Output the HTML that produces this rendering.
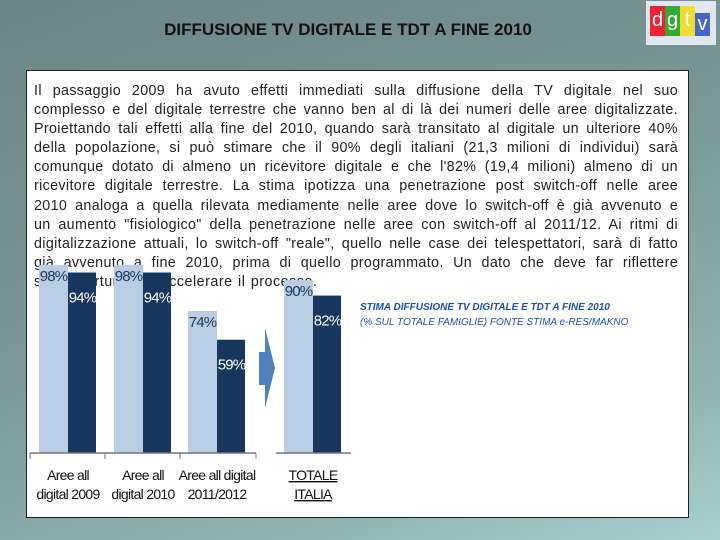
<!DOCTYPE html>
<html><head><meta charset="utf-8"><style>
body{margin:0;width:720px;height:540px;overflow:hidden;position:relative;font-family:"Liberation Sans",sans-serif;
background:linear-gradient(160deg,#6d8585 0%,#7a9696 45%,#8fb3b3 80%,#a8d0d0 100%);}
#title{position:absolute;left:0;width:696px;top:20px;text-align:center;font-weight:bold;font-size:17px;color:#111}
#logo{position:absolute;left:646px;top:1px;width:70px;height:44px;background:#dfe8f0}
.lb{position:absolute;top:5px;width:15px;height:30px;color:#fff;font-size:20px;text-align:center;line-height:28px}
#box{position:absolute;left:26px;top:70px;width:661px;height:446px;background:#fff;border:1px solid #222}
#para{position:absolute;left:7px;top:11px;width:644px;font-size:14.3px;line-height:19.1px;color:#222;letter-spacing:0.35px}
#para div{text-align:justify;text-align-last:justify;white-space:nowrap;overflow:visible}
#para div.last{text-align-last:left;letter-spacing:0.5px;word-spacing:1px}
#cap{position:absolute;left:333px;top:229px;font-size:10px;font-style:italic;color:#1f4fb0;line-height:15px}
svg{position:absolute;left:0;top:0}
</style></head><body>
<div id="title">DIFFUSIONE TV DIGITALE E TDT A FINE 2010</div>
<div id="logo">
<div class="lb" style="left:4px;background:#e23">d</div>
<div class="lb" style="left:19px;background:#3a3">g</div>
<div class="lb" style="left:34px;background:#ed3">t</div>
<div class="lb" style="left:49px;top:12px;height:23px;line-height:22px;background:#46c">v</div></div>
<div id="box">
<div id="para">
<div>Il passaggio 2009 ha avuto effetti immediati sulla diffusione della TV digitale nel suo</div>
<div>complesso e del digitale terrestre che vanno ben al di là dei numeri delle aree digitalizzate.</div>
<div>Proiettando tali effetti alla fine del 2010, quando sarà transitato al digitale un ulteriore 40%</div>
<div>della popolazione, si può stimare che il 90% degli italiani (21,3 milioni di individui) sarà</div>
<div>comunque dotato di almeno un ricevitore digitale e che l'82% (19,4 milioni) almeno di un</div>
<div>ricevitore digitale terrestre. La stima ipotizza una penetrazione post switch-off nelle aree</div>
<div>2010 analoga a quella rilevata mediamente nelle aree dove lo switch-off è già avvenuto e</div>
<div>un aumento "fisiologico" della penetrazione nelle aree con switch-off al 2011/12. Ai ritmi di</div>
<div>digitalizzazione attuali, lo switch-off "reale", quello nelle case dei telespettatori, sarà di fatto</div>
<div>già avvenuto a fine 2010, prima di quello programmato. Un dato che deve far riflettere</div>
<div class="last">sull'opportunità di accelerare il processo.</div>
</div>
<div id="cap"><b>STIMA DIFFUSIONE TV DIGITALE E TDT A FINE 2010</b><br>(% SUL TOTALE FAMIGLIE) FONTE STIMA e-RES/MAKNO</div>
</div>
<svg id="chart" width="720" height="540"></svg>
<script>
const categories=["Aree all|digital 2009","Aree all|digital 2010","Aree all digital|2011/2012","TOTALE|ITALIA"];
const tvDigitale=[98,98,74,90];
const tdt=[94,94,59,82];
const groupX=[39,114,188,284];
const base=453, scale=1.92, bw=29;
const y=v=>base-v*scale;
const svg=document.getElementById('chart');
const NS='http://www.w3.org/2000/svg';
function mk(t,a){const e=document.createElementNS(NS,t);for(const k in a)e.setAttribute(k,a[k]);svg.appendChild(e);return e;}
categories.forEach((c,i)=>{
  const x=groupX[i];
  const r1=mk('rect',{x:x,y:y(tvDigitale[i]),width:bw,height:tvDigitale[i]*scale,fill:'#b9cde5'});
  
  
  const r2=mk('rect',{x:x+bw,y:y(tdt[i]),width:bw-1,height:tdt[i]*scale,fill:'#17375e'});
  
  
  const t1=mk('text',{x:x+bw/2,y:y(tvDigitale[i])+16,'text-anchor':'middle','font-size':15,fill:'#17375e','font-family':'Liberation Sans, sans-serif','letter-spacing':'-0.8'});
  t1.textContent=tvDigitale[i]+'%';
  
  
  const t2=mk('text',{x:x+bw+bw/2,y:y(tdt[i])+30,'text-anchor':'middle','font-size':15,fill:'#fff','font-family':'Liberation Sans, sans-serif','letter-spacing':'-0.8'});
  t2.textContent=tdt[i]+'%';
  
  
  const parts=c.split('|');
  parts.forEach((p,j)=>{
    const tl=mk('text',{x:x+bw,y:480+j*19,'text-anchor':'middle','font-size':14,fill:'#111','font-family':'Liberation Sans, sans-serif','letter-spacing':'-0.7','text-decoration':i==3?'underline':'none'});
    tl.textContent=p;
    
    
  });
});
mk('line',{x1:30,y1:453,x2:256,y2:453,stroke:'#777','stroke-width':1.5});
[30,105,180,256].forEach(x=>mk('line',{x1:x,y1:453,x2:x,y2:459,stroke:'#777'}));
mk('line',{x1:276,y1:453,x2:351,y2:453,stroke:'#777','stroke-width':1.5});
const ar=mk('polygon',{points:'259,352 265,352 265,328 275,368 265,408 265,385 259,385',fill:'#4f81bd'});


</script>
</body></html>
